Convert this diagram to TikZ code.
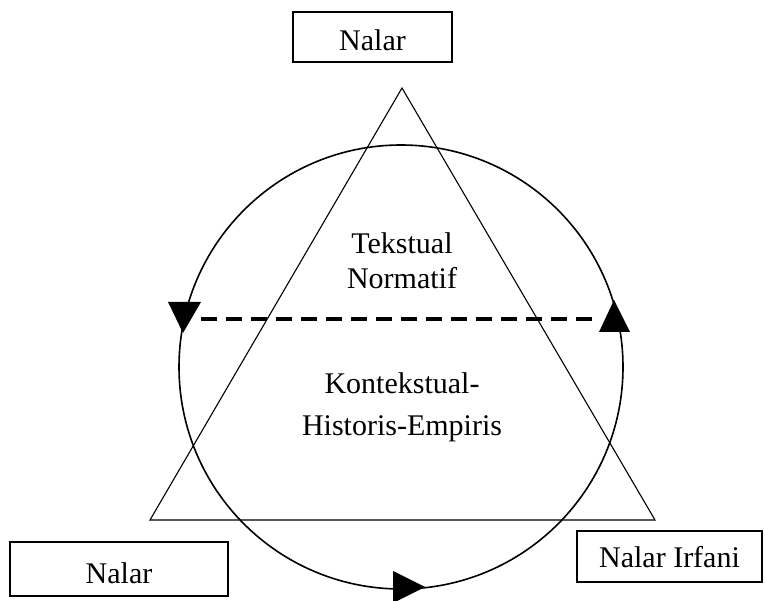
\documentclass[tikz,border=0pt]{standalone}
\usepackage{fontspec}
\setmainfont{Liberation Serif}
\usetikzlibrary{arrows.meta}
\begin{document}
\begin{tikzpicture}[
    x=0.5pt, y=0.5pt,
    box/.style={draw, line width=1pt, text height=14pt, text depth=0pt, font=\fontsize{15}{18}\selectfont},
    label/.style={align=center, font=\fontsize{15}{#1}\selectfont},
    dashline/.style={line width=1.6pt, dash pattern=on 8pt off 4.5pt}
]
    \useasboundingbox (0,0) rectangle (765,600);

    % Triangle
    \draw[line width=0.55pt] (402,512) -- (655,80) -- (150,80) -- cycle;

    % Circle
    \draw[line width=0.8pt] (401,233) circle [radius=111pt];

    % Arrowheads on the circle (counter-clockwise)
    \fill (168,298) -- (201,298) -- (183,267) -- cycle;
    \fill (599,268) -- (630,268) -- (614,300) -- cycle;
    \fill (393,29) -- (393,-3) -- (425,13) -- cycle;

    % Dashed line between the two heads
    \coordinate (lefthead) at (201,281);
    \coordinate (righthead) at (600,281);
    \draw[dashline] (lefthead) -- (righthead);

    % Inner texts
    \node[label=17.5pt] (tekstual) at (402,339.5) {Tekstual\\Normatif};
    \node[label=21pt] (kontekstual) at (402,193) {Kontekstual-\\Historis-Empiris};

    % Boxes
    \node[box, minimum width=79.5pt, minimum height=25pt] (top) at (372.5,563) {Nalar};
    \node[box, minimum width=109pt, minimum height=27pt] (left) at (119,31) {Nalar};
    \node[box, minimum width=92.5pt, minimum height=25.5pt, text height=10.5pt] (right) at (669.5,43.5) {Nalar Irfani};
\end{tikzpicture}
\end{document}
